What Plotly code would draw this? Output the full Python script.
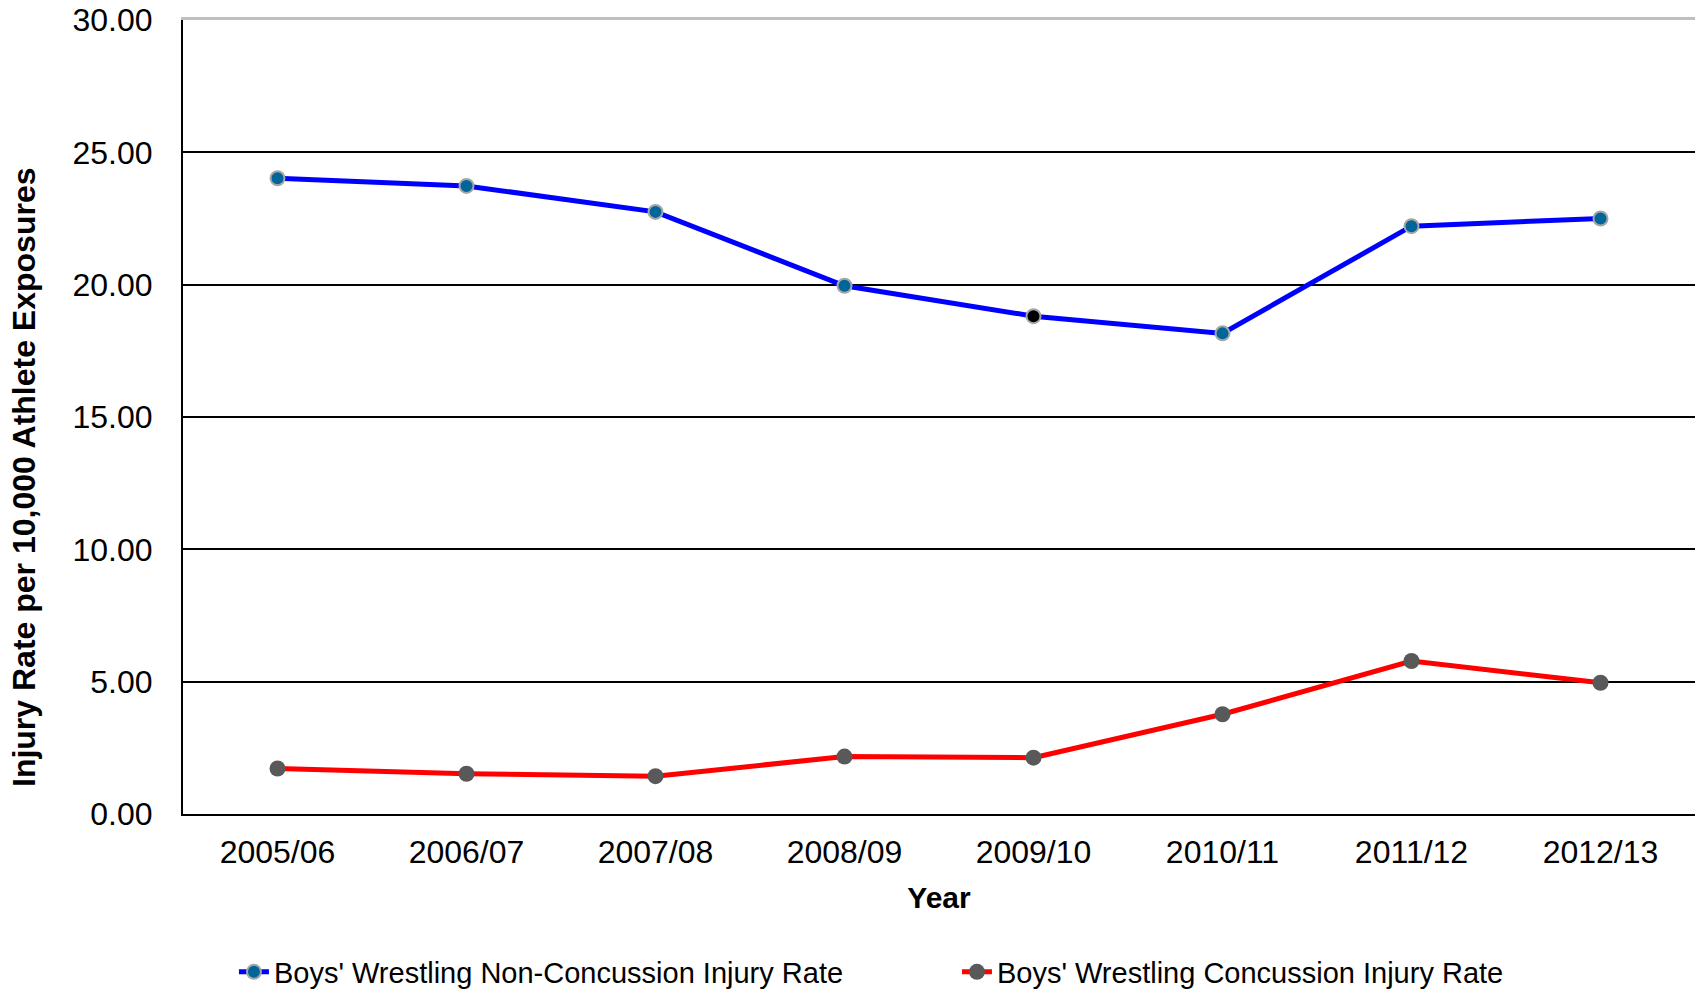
import plotly.graph_objects as go

years = ["2005/06", "2006/07", "2007/08", "2008/09", "2009/10", "2010/11", "2011/12", "2012/13"]
non_concussion = [24.02, 23.73, 22.75, 19.96, 18.81, 18.16, 22.21, 22.50]
concussion = [1.72, 1.52, 1.43, 2.17, 2.13, 3.77, 5.78, 4.96]
y_ticks = [0, 5, 10, 15, 20, 25, 30]
y_tick_labels = ["0.00", "5.00", "10.00", "15.00", "20.00", "25.00", "30.00"]

blue_marker_colors = ["#006699"] * len(years)
blue_marker_colors[4] = "#000000"

font_family = "Liberation Sans, Arial, sans-serif"

fig = go.Figure()
fig.add_trace(go.Scatter(
    x=years, y=non_concussion, mode="lines+markers",
    name="Boys' Wrestling Non-Concussion Injury Rate",
    line=dict(color="#0000FF", width=5),
    marker=dict(size=14, color=blue_marker_colors, line=dict(color="#A6A6A6", width=2)),
))
fig.add_trace(go.Scatter(
    x=years, y=concussion, mode="lines+markers",
    name="Boys' Wrestling Concussion Injury Rate",
    line=dict(color="#FF0000", width=5),
    marker=dict(size=16, color="#595959", line=dict(width=0)),
))

fig.update_layout(
    width=1700, height=993,
    paper_bgcolor="white", plot_bgcolor="white",
    margin=dict(l=183, r=5, t=20, b=179, autoexpand=False),
    font=dict(family=font_family, color="black"),
    showlegend=True,
    legend=dict(
        orientation="h", x=0.0337, xanchor="left", y=-0.199, yanchor="middle",
        font=dict(size=29),
        entrywidth=678, entrywidthmode="pixels",
        itemwidth=30, bgcolor="rgba(0,0,0,0)",
    ),
    xaxis=dict(
        type="category", showgrid=False, showline=True, linecolor="black", linewidth=2,
        ticks="", tickfont=dict(size=32), ticklabelstandoff=9, automargin=False,
        title=dict(text="<b>Year</b>", font=dict(size=30), standoff=18),
        range=[-0.5, len(years) - 0.5],
    ),
    xaxis2=dict(
        overlaying="x", side="top", showline=True, linecolor="#BFBFBF", linewidth=2.5,
        showticklabels=False, showgrid=False, ticks="", automargin=False,
        range=[0, 1],
    ),
    yaxis=dict(
        range=[0, 30], tickvals=y_ticks, ticktext=y_tick_labels,
        showgrid=True, gridcolor="black", gridwidth=1.5,
        showline=True, linecolor="black", linewidth=2, zeroline=False,
        ticks="", tickfont=dict(size=32), ticklabelstandoff=22, automargin=False,
        ticklabeloverflow="allow",
    ),
    annotations=[dict(
        text="<b>Injury Rate per 10,000 Athlete Exposures</b>",
        textangle=-90, xref="paper", yref="paper",
        x=(24 - 183) / 1512, y=(814 - 477) / 794,
        xanchor="center", yanchor="middle", showarrow=False,
        font=dict(size=32, family=font_family, color="black"),
    )],
)

# empty trace to activate top axis line
fig.add_trace(go.Scatter(x=[None], y=[None], xaxis="x2", showlegend=False, hoverinfo="skip"))

# remove the browser's default 8px body margin so the figure fills the window exactly
fig.write_html(
    "out.html",
    config={"displayModeBar": False},
    post_script="document.body.style.margin='0px';",
)
